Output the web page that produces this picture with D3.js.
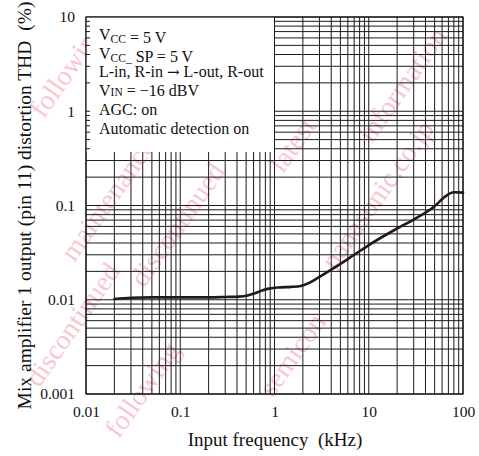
<!DOCTYPE html>
<html><head><meta charset="utf-8">
<script src="https://cdn.jsdelivr.net/npm/d3@7"></script>
<style>html,body{margin:0;padding:0;background:#fff;}svg{display:block;}</style>
</head><body>
<svg id="c" width="479" height="456"></svg>
<script>
const freqKHz = [0.02, 0.03, 0.05, 0.1, 0.2, 0.3, 0.42, 0.52, 0.62, 0.75, 0.9, 1.1, 1.5, 1.9, 2.3, 3, 5, 7, 10, 20, 30, 50, 65, 80, 100];
const thdPct  = [0.0102, 0.0105, 0.0106, 0.0106, 0.0106, 0.0107, 0.0108, 0.0111, 0.0117, 0.0126, 0.0132, 0.0135, 0.0137, 0.0140, 0.0150, 0.0175, 0.024, 0.030, 0.038, 0.057, 0.071, 0.098, 0.125, 0.138, 0.137];
const xTickLabels = ["0.01", "0.1", "1", "10", "100"];
const yTickLabels = ["0.001", "0.01", "0.1", "1", "10"];
// segments: [text, kind] kind: n normal, s subscript, c small caps, a arrow
const conditions = [
  [["V","n"],["CC","s"],[" = 5 V","n"]],
  [["V","n"],["CC_","s"],[" SP = 5 V","n"]],
  [["L-in, R-in ","n"],["\u2192","a"],[" L-out, R-out","n"]],
  [["V","n"],["IN","c"],[" = \u221216 dBV","n"]],
  [["AGC: on","n"]],
  [["Automatic detection on","n"]]
];
const watermark = ["following", "maintenance", "discontinued", "typed", "latest", "information", "panasonic.co.jp", "semicon", "following", "discontinued"];

const svg = d3.select("#c");
const L = 86, R = 463, T = 17, B = 394;
const x = d3.scaleLog().domain([0.01, 100]).range([L, R]);
const y = d3.scaleLog().domain([0.001, 10]).range([B, T]);
const font = "'Liberation Serif','Times New Roman',serif";

// faint watermark
const wm = svg.append("g").attr("fill", "#f8c8d1").attr("font-family", font).attr("font-size", 28);
const wmPos = [[75,75],[115,205],[185,230],[250,110],[300,150],[410,90],[385,200],[300,360],[150,395],[80,330]];
wmPos.forEach((p, i) => {
  wm.append("text").attr("transform", `translate(${p[0]},${p[1]}) rotate(-55)`)
    .attr("text-anchor", "middle").text(watermark[i]);
});

// grid values
const gx = [], gy = [];
for (let e = -2; e < 2; e++) for (let m = 1; m <= 9; m++) gx.push(m * Math.pow(10, e));
gx.push(100);
for (let e = -3; e < 1; e++) for (let m = 1; m <= 9; m++) gy.push(m * Math.pow(10, e));
gy.push(10);

const grid = svg.append("g").attr("stroke", "#1a1a1a").attr("stroke-width", 1);
grid.selectAll("line.v").data(gx).join("line")
  .attr("x1", d => x(d)).attr("x2", d => x(d)).attr("y1", T).attr("y2", B);
grid.selectAll("line.h").data(gy).join("line")
  .attr("y1", d => y(d)).attr("y2", d => y(d)).attr("x1", L).attr("x2", R);

// white box for conditions
const boxR = x(1), boxB = 152;
svg.append("rect").attr("x", L).attr("y", T).attr("width", boxR - L).attr("height", boxB - T).attr("fill", "#fff");
svg.append("g").attr("stroke", "#1a1a1a").selectAll("line").data(gy.filter(d => y(d) < boxB && y(d) > T)).join("line")
  .attr("x1", L).attr("x2", L + 4).attr("y1", d => y(d)).attr("y2", d => y(d));
svg.append("line").attr("x1", boxR).attr("x2", boxR).attr("y1", T).attr("y2", B).attr("stroke", "#1a1a1a");

// frame
svg.append("rect").attr("x", L).attr("y", T).attr("width", R - L).attr("height", B - T)
  .attr("fill", "none").attr("stroke", "#111").attr("stroke-width", 1.2);

// conditions text
const ct = svg.append("g").attr("font-family", font).attr("font-size", 16).attr("fill", "#111");
conditions.forEach((segs, i) => {
  const t = ct.append("text").attr("x", 99).attr("y", 40 + i * 18.7);
  segs.forEach(([txt, k]) => {
    if (k === "s") {
      t.append("tspan").attr("font-size", 11.5).attr("dy", 3).text(txt);
      t.append("tspan").attr("dy", -3).text("");
    } else if (k === "c") {
      t.append("tspan").attr("font-size", 11.5).text(txt);
    } else if (k === "a") {
      t.append("tspan").attr("font-family", "'DejaVu Serif',serif").attr("font-size", 15).text(txt);
    } else t.append("tspan").text(txt);
  });
});

// curve
const pts = freqKHz.map((f, i) => [f, thdPct[i]]);
svg.append("path").datum(pts)
  .attr("fill", "none").attr("stroke", "#231815").attr("stroke-width", 2.6)
  .attr("stroke-linejoin", "round").attr("stroke-linecap", "round")
  .attr("d", d3.line().x(d => x(d[0])).y(d => y(d[1])).curve(d3.curveMonotoneX));

// axes labels
const xa = d3.axisBottom(x).tickValues(xTickLabels.map(Number)).tickFormat((d, i) => xTickLabels[i]).tickSize(0).tickPadding(12);
const ya = d3.axisLeft(y).tickValues(yTickLabels.map(Number)).tickFormat((d, i) => yTickLabels[i]).tickSize(0).tickPadding(11);
const gxA = svg.append("g").attr("transform", `translate(0,${B})`).call(xa);
const gyA = svg.append("g").attr("transform", `translate(${L},0)`).call(ya);
[gxA, gyA].forEach(g => {
  g.select(".domain").remove();
  g.selectAll("text").attr("font-family", font).attr("font-size", 15.5).attr("fill", "#111");
});

svg.append("text").attr("x", 275).attr("y", 446).attr("text-anchor", "middle")
  .attr("font-family", font).attr("font-size", 19).attr("fill", "#111")
  .attr("xml:space", "preserve").text("Input frequency  (kHz)");
svg.append("text").attr("transform", `translate(31,${(T + B) / 2}) rotate(-90)`).attr("text-anchor", "middle")
  .attr("font-family", font).attr("font-size", 19.5).attr("fill", "#111")
  .attr("xml:space", "preserve").text("Mix amplifier 1 output (pin 11) distortion THD  (%)");
</script>
</body></html>
